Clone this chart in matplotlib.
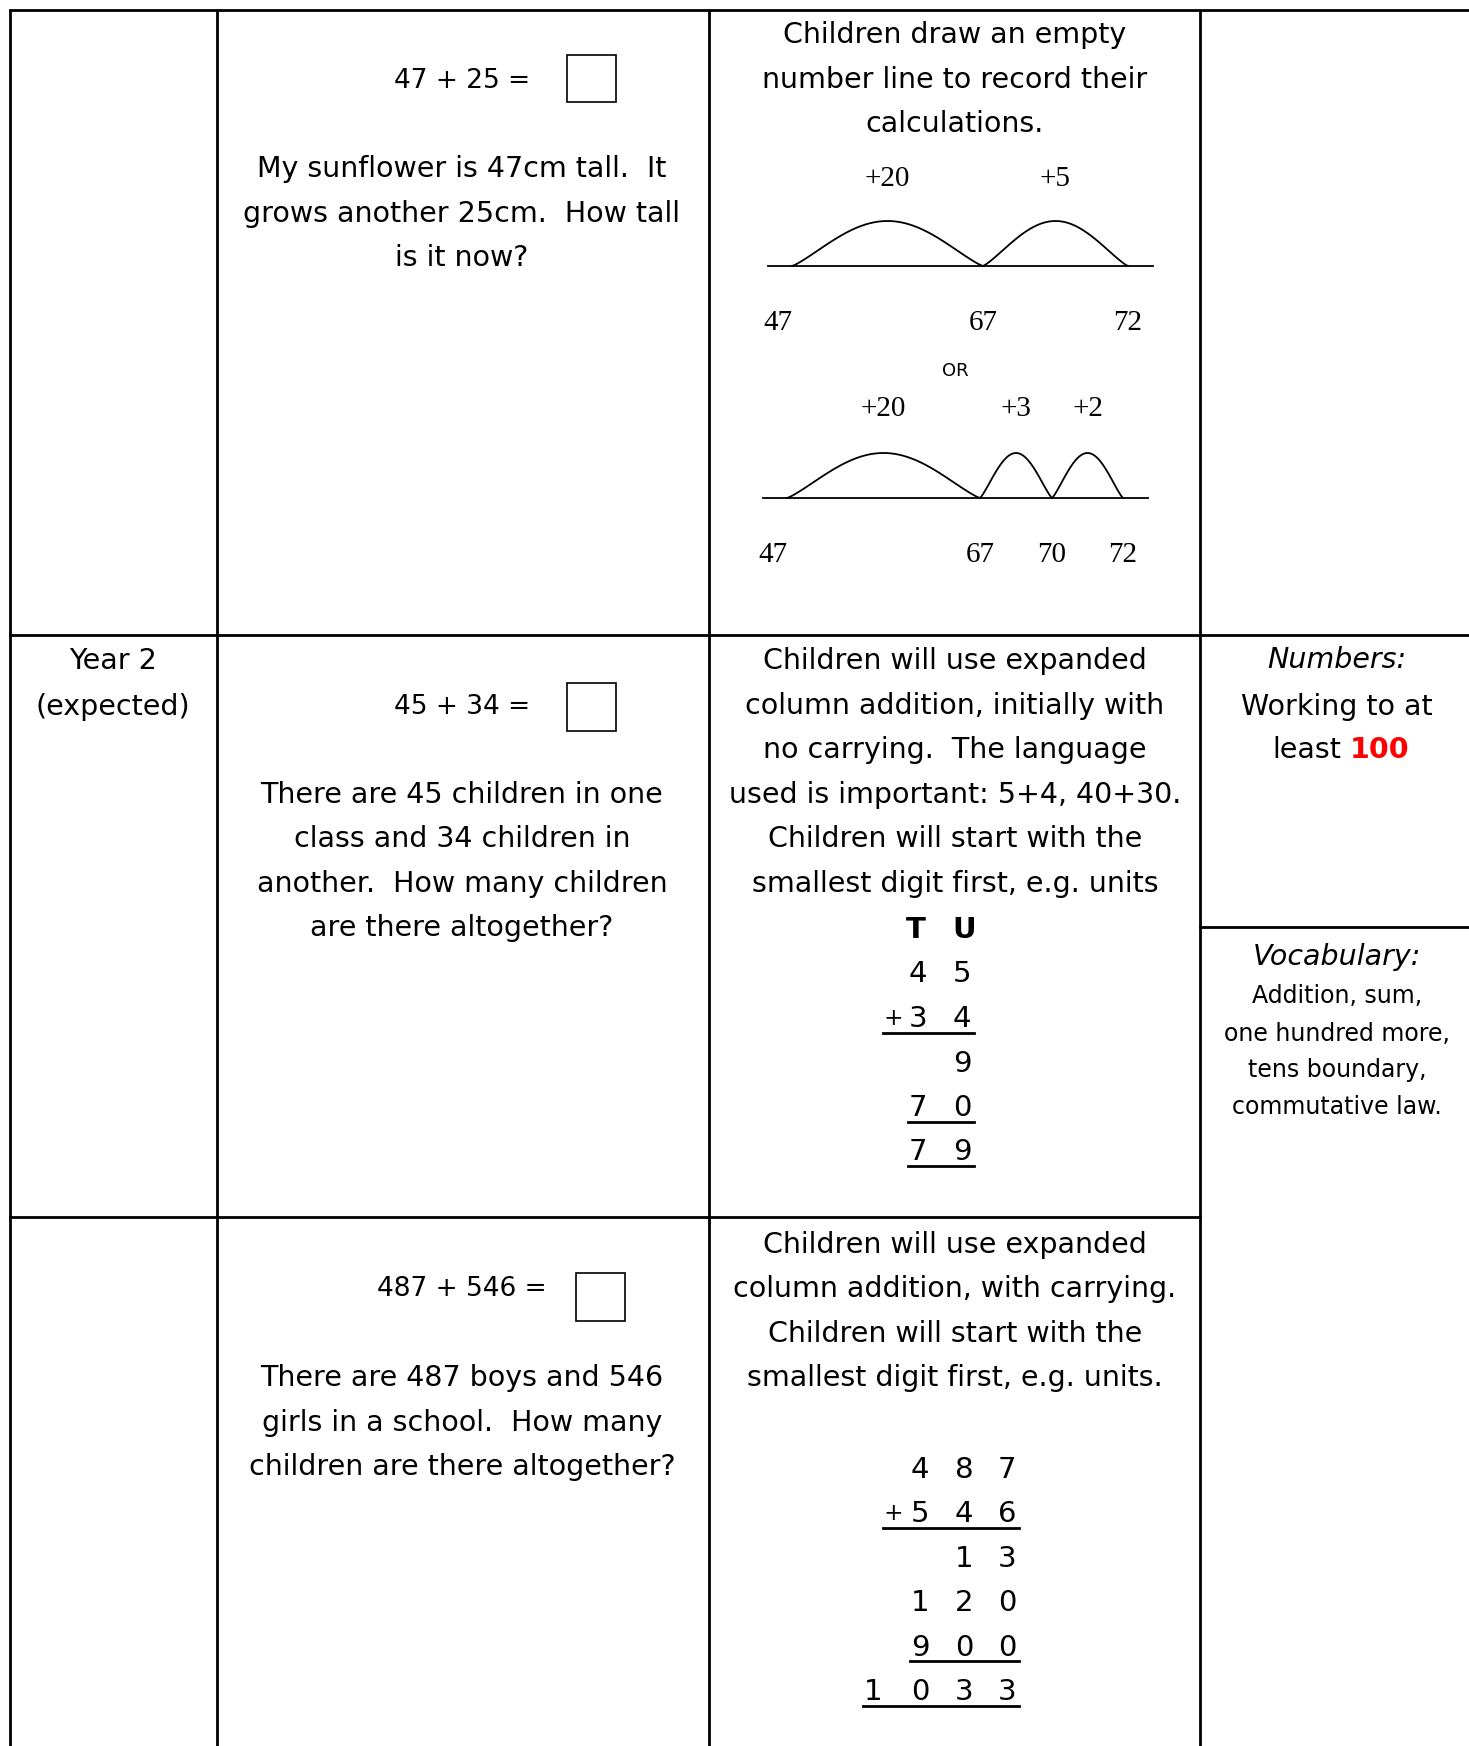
import numpy as np
import matplotlib.pyplot as plt
from matplotlib.patches import Rectangle

# ---- page content ----
year_label = ["Year 2", "(expected)"]

q1_sum = "47 + 25 ="
q1_story = ["My sunflower is 47cm tall.  It", "grows another 25cm.  How tall", "is it now?"]
q1_method = ["Children draw an empty", "number line to record their", "calculations."]

nl1_marks = ["47", "67", "72"]
nl1_jumps = ["+20", "+5"]
nl2_marks = ["47", "67", "70", "72"]
nl2_jumps = ["+20", "+3", "+2"]

q2_sum = "45 + 34 ="
q2_story = ["There are 45 children in one", "class and 34 children in",
            "another.  How many children", "are there altogether?"]
q2_method = ["Children will use expanded", "column addition, initially with",
             "no carrying.  The language", "used is important: 5+4, 40+30.",
             "Children will start with the", "smallest digit first, e.g. units"]
q2_head = ["T", "U"]
q2_rows = [" 45", "+34", "  9", " 70", " 79"]
q2_lined = [1, 3, 4]

q3_sum = "487 + 546 ="
q3_story = ["There are 487 boys and 546", "girls in a school.  How many",
            "children are there altogether?"]
q3_method = ["Children will use expanded", "column addition, with carrying.",
             "Children will start with the", "smallest digit first, e.g. units."]
q3_rows = [" 487", "+546", "  13", " 120", " 900", "1033"]
q3_lined = [1, 4, 5]

numbers_title = "Numbers:"
numbers_text = ["Working to at", "least"]
numbers_hi = "100"
vocab_title = "Vocabulary:"
vocab_text = ["Addition, sum,", "one hundred more,", "tens boundary,", "commutative law."]

# ---- layout (pixels of the 1469x1746 page) ----
W, H = 1469, 1746
col_x = [10, 217, 709, 1200]
FS = 20.5
SANS = "DejaVu Sans"
SERIF = "Liberation Serif"

fig = plt.figure(figsize=(W / 100, H / 100), dpi=100)
ax = fig.add_axes([0, 0, 1, 1])
ax.set_xlim(0, W)
ax.set_ylim(H, 0)
ax.axis("off")


def put(x, y, s, size=FS, ha="center", **kw):
    # y is the visual middle of the line, convert to a baseline
    ax.text(x, y + 0.36 * size * 100 / 72, s, ha=ha, va="baseline",
            fontsize=size, family=kw.pop("family", SANS), **kw)


def lines(x, ys, texts, size=FS, **kw):
    for y, t in zip(ys, texts):
        put(x, y, t, size=size, **kw)


# table rules
lw = 2.0
for x in col_x:
    ax.plot([x, x], [10, H], color="black", lw=lw, solid_capstyle="butt")
ax.plot([10, W], [10, 10], color="black", lw=lw)
ax.plot([10, W], [635, 635], color="black", lw=lw)
ax.plot([1200, W], [927, 927], color="black", lw=lw)
ax.plot([10, 1200], [1217, 1217], color="black", lw=lw)

c2 = 462
c3 = 955
c4 = 1337

# column 1
lines(113, [659, 705], year_label)

# column 2: equations with answer boxes
put(c2, 78, q1_sum, size=19)
ax.add_patch(Rectangle((567, 55), 49, 47, fill=False, lw=1.2, ec="black"))
lines(c2, [167, 212, 256], q1_story)

put(c2, 704, q2_sum, size=19)
ax.add_patch(Rectangle((567, 683), 49, 48, fill=False, lw=1.2, ec="black"))
lines(c2, [793, 837, 882, 926], q2_story)

put(c2, 1286, q3_sum, size=19)
ax.add_patch(Rectangle((576, 1273), 49, 48, fill=False, lw=1.2, ec="black"))
lines(c2, [1376, 1421, 1465], q3_story)

# column 3: methods
lines(c3, [33, 78, 122], q1_method)
lines(c3, [659, 704, 748, 793, 837, 882], q2_method)
lines(c3, [1243, 1287, 1332, 1376], q3_method)


# empty number lines
def arc(a, b, base, h):
    xs = np.linspace(a, b, 80)
    t = (xs - a) / (b - a)
    ax.plot(xs, base - h * np.sin(np.pi * t) ** 1.2, color="black", lw=1.3)


def number_line(base, x0, x1, stops, marks, jumps, jump_y, mark_y):
    ax.plot([x0, x1], [base, base], color="black", lw=1.3)
    for i, lab in enumerate(jumps):
        a, b = stops[i], stops[i + 1]
        arc(a, b, base, 45)
        put((a + b) / 2, jump_y, lab, size=21, family=SERIF)
    for xs, lab in zip(stops, marks):
        put(xs - 14 if lab == "47" else xs, mark_y, lab, size=21, family=SERIF)


number_line(266, 768, 1153, [792, 983, 1128], nl1_marks, nl1_jumps, 175, 319)
put(c3, 369, "OR", size=13)
number_line(498, 763, 1148, [787, 980, 1052, 1123], nl2_marks, nl2_jumps, 406, 551)


# column sums
def column_sum(rows, lined, xs, plus_x, y0, dy, size=21):
    for r, row in enumerate(rows):
        y = y0 + r * dy
        used = []
        for ch, x in zip(row, xs):
            if ch == " ":
                continue
            if ch == "+":
                x = plus_x
                put(x, y, ch, size=size * 0.8)
            else:
                put(x, y, ch, size=size)
            used.append(x)
        if r in lined:
            ax.plot([min(used) - 10, max(used) + 12], [y + 16, y + 16],
                    color="black", lw=2.0)


put(916, 928, q2_head[0], size=21, weight="bold")
put(964, 928, q2_head[1], size=21, weight="bold")
column_sum(q2_rows, q2_lined, [893, 918, 962], 893, 972, 44.5)
column_sum(q3_rows, q3_lined, [873, 920, 964, 1007], 893, 1467, 44.6)

# column 4
put(c4, 658, numbers_title, style="italic")
put(c4, 705, numbers_text[0])
put(1341, 748, numbers_text[1], ha="right")
put(1350, 748, numbers_hi, ha="left", color="#ff0000", weight="bold")

put(c4, 955, vocab_title, style="italic")
lines(c4, [995, 1032, 1068, 1105], vocab_text, size=17)

fig.savefig("out.png", dpi=100)
